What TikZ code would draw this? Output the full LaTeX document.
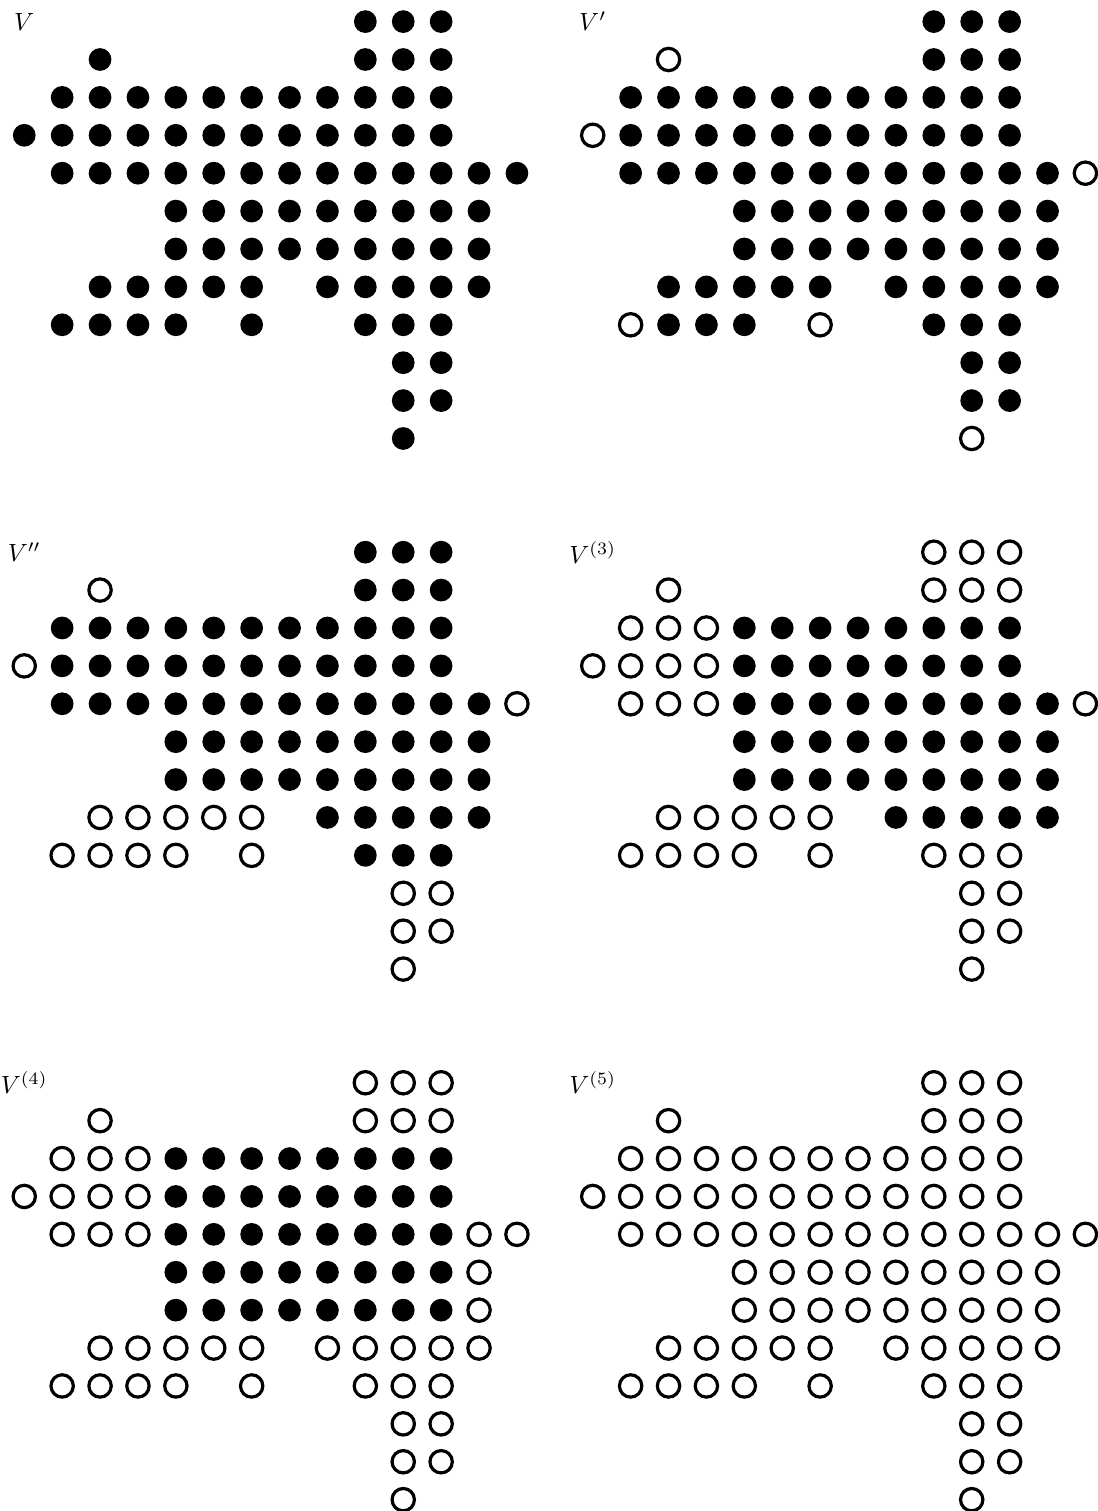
\documentclass[tikz,border=0pt]{standalone}
\usepackage{amsmath, amssymb}
\usepackage{graphicx}
\usepackage{tikz}
\usetikzlibrary{positioning}

\newcommand{\panelname}[1]{\scalebox{1.87}{$#1$}}

\begin{document}
\begin{tikzpicture}[x=1cm, y=-1cm,
    fulldot/.style={fill=black},
    emptydot/.style={draw=black, line width=2.4pt}]
    \useasboundingbox (-0.64,-0.57) rectangle (28.33,39.30);

    % Tập V: tất cả đều tô đen
    \node (labV) at (0,0) {\panelname{V}};
    \foreach \r/\a/\b in {0/9/11, 1/2/2, 1/9/11, 2/1/11, 3/0/11, 4/1/13, 5/4/12, 6/4/12,
        7/2/6, 7/8/12, 8/1/4, 8/6/6, 8/9/11, 9/10/11, 10/10/11, 11/10/10}
        \foreach \c in {\a,...,\b} \path[fulldot] (\c,\r) circle (0.3);

    % Tập V'
    \begin{scope}[shift={(15,0)}]
        \node (labVa) at (0,0) {\panelname{V'}};
        \foreach \r/\a/\b in {0/9/11, 1/9/11, 2/1/11, 3/1/11, 4/1/12, 5/4/12, 6/4/12,
            7/2/6, 7/8/12, 8/2/4, 8/9/11, 9/10/11, 10/10/11}
            \foreach \c in {\a,...,\b} \path[fulldot] (\c,\r) circle (0.3);
        \foreach \r/\a/\b in {1/2/2, 3/0/0, 4/13/13, 8/1/1, 8/6/6, 11/10/10}
            \foreach \c in {\a,...,\b} \path[emptydot] (\c,\r) circle (0.295);
    \end{scope}

    % Tập V''
    \begin{scope}[shift={(0,14)}]
        \node (labVb) at (0,0) {\panelname{V''}};
        \foreach \r/\a/\b in {0/9/11, 1/9/11, 2/1/11, 3/1/11, 4/1/12, 5/4/12, 6/4/12,
            7/8/12, 8/9/11}
            \foreach \c in {\a,...,\b} \path[fulldot] (\c,\r) circle (0.3);
        \foreach \r/\a/\b in {1/2/2, 3/0/0, 4/13/13, 7/2/6, 8/1/4, 8/6/6,
            9/10/11, 10/10/11, 11/10/10}
            \foreach \c in {\a,...,\b} \path[emptydot] (\c,\r) circle (0.295);
    \end{scope}

    % Tập V^(3)
    \begin{scope}[shift={(15,14)}]
        \node (labVc) at (0,0) {\panelname{V^{(3)}}};
        \foreach \r/\a/\b in {2/4/11, 3/4/11, 4/4/12, 5/4/12, 6/4/12, 7/8/12}
            \foreach \c in {\a,...,\b} \path[fulldot] (\c,\r) circle (0.3);
        \foreach \r/\a/\b in {0/9/11, 1/2/2, 1/9/11, 2/1/3, 3/0/3, 4/1/3, 4/13/13,
            7/2/6, 8/1/4, 8/6/6, 8/9/11, 9/10/11, 10/10/11, 11/10/10}
            \foreach \c in {\a,...,\b} \path[emptydot] (\c,\r) circle (0.295);
    \end{scope}

    % Tập V^(4)
    \begin{scope}[shift={(0,28)}]
        \node (labVd) at (0,0) {\panelname{V^{(4)}}};
        \foreach \r/\a/\b in {2/4/11, 3/4/11, 4/4/11, 5/4/11, 6/4/11}
            \foreach \c in {\a,...,\b} \path[fulldot] (\c,\r) circle (0.3);
        \foreach \r/\a/\b in {0/9/11, 1/2/2, 1/9/11, 2/1/3, 3/0/3, 4/1/3, 4/12/13,
            5/12/12, 6/12/12, 7/2/6, 7/8/12, 8/1/4, 8/6/6, 8/9/11,
            9/10/11, 10/10/11, 11/10/10}
            \foreach \c in {\a,...,\b} \path[emptydot] (\c,\r) circle (0.295);
    \end{scope}

    % Tập V^(5): tất cả đều rỗng
    \begin{scope}[shift={(15,28)}]
        \node (labVe) at (0,0) {\panelname{V^{(5)}}};
        \foreach \r/\a/\b in {0/9/11, 1/2/2, 1/9/11, 2/1/11, 3/0/11, 4/1/13, 5/4/12, 6/4/12,
            7/2/6, 7/8/12, 8/1/4, 8/6/6, 8/9/11, 9/10/11, 10/10/11, 11/10/10}
            \foreach \c in {\a,...,\b} \path[emptydot] (\c,\r) circle (0.295);
    \end{scope}
\end{tikzpicture}
\end{document}
